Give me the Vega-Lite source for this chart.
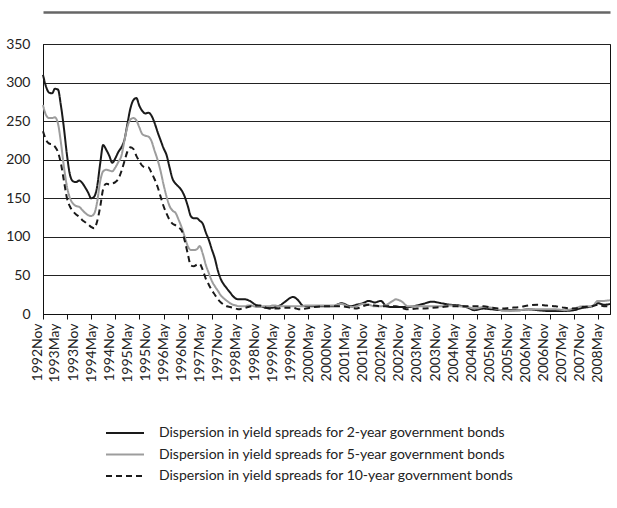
{
  "$schema": "https://vega.github.io/schema/vega-lite/v6.json",
  "width": 567,
  "height": 270,
  "autosize": "none",
  "padding": {"left": 43, "top": 44, "right": 7, "bottom": 194},
  "background": "white",
  "config": {
    "view": {"stroke": "#111", "strokeWidth": 1},
    "font": "Lato",
    "axis": {"labelFont": "Lato", "labelColor": "#222"},
    "legend": {"labelFont": "Lato", "labelColor": "#222"}
  },
  "data": {
    "values": [
      {"d": "1992-11", "a": 310, "b": 271, "c": 237},
      {"d": "1992-12", "a": 295, "b": 258, "c": 226},
      {"d": "1993-01", "a": 287, "b": 254, "c": 221},
      {"d": "1993-02", "a": 286, "b": 254, "c": 220},
      {"d": "1993-03", "a": 292, "b": 255, "c": 217},
      {"d": "1993-04", "a": 291, "b": 247, "c": 210},
      {"d": "1993-05", "a": 270, "b": 222, "c": 195},
      {"d": "1993-06", "a": 240, "b": 190, "c": 172},
      {"d": "1993-07", "a": 206, "b": 165, "c": 150},
      {"d": "1993-08", "a": 180, "b": 150, "c": 139},
      {"d": "1993-09", "a": 172, "b": 143, "c": 133},
      {"d": "1993-10", "a": 171, "b": 140, "c": 129},
      {"d": "1993-11", "a": 173, "b": 139, "c": 126},
      {"d": "1993-12", "a": 170, "b": 135, "c": 122},
      {"d": "1994-01", "a": 164, "b": 131, "c": 119},
      {"d": "1994-02", "a": 157, "b": 128, "c": 116},
      {"d": "1994-03", "a": 150, "b": 127, "c": 113},
      {"d": "1994-04", "a": 152, "b": 130, "c": 111},
      {"d": "1994-05", "a": 165, "b": 145, "c": 120},
      {"d": "1994-06", "a": 195, "b": 172, "c": 139},
      {"d": "1994-07", "a": 219, "b": 185, "c": 162},
      {"d": "1994-08", "a": 213, "b": 187, "c": 169},
      {"d": "1994-09", "a": 205, "b": 186, "c": 168},
      {"d": "1994-10", "a": 196, "b": 185, "c": 169},
      {"d": "1994-11", "a": 202, "b": 190, "c": 171},
      {"d": "1994-12", "a": 210, "b": 197, "c": 175},
      {"d": "1995-01", "a": 216, "b": 205, "c": 185},
      {"d": "1995-02", "a": 226, "b": 225, "c": 198},
      {"d": "1995-03", "a": 245, "b": 242, "c": 210},
      {"d": "1995-04", "a": 266, "b": 252, "c": 216},
      {"d": "1995-05", "a": 277, "b": 254, "c": 214},
      {"d": "1995-06", "a": 280, "b": 251, "c": 205},
      {"d": "1995-07", "a": 270, "b": 242, "c": 198},
      {"d": "1995-08", "a": 263, "b": 233, "c": 192},
      {"d": "1995-09", "a": 260, "b": 231, "c": 190},
      {"d": "1995-10", "a": 261, "b": 230, "c": 190},
      {"d": "1995-11", "a": 257, "b": 224, "c": 183},
      {"d": "1995-12", "a": 248, "b": 212, "c": 175},
      {"d": "1996-01", "a": 236, "b": 200, "c": 165},
      {"d": "1996-02", "a": 225, "b": 185, "c": 152},
      {"d": "1996-03", "a": 215, "b": 168, "c": 140},
      {"d": "1996-04", "a": 206, "b": 152, "c": 130},
      {"d": "1996-05", "a": 190, "b": 140, "c": 122},
      {"d": "1996-06", "a": 175, "b": 134, "c": 117},
      {"d": "1996-07", "a": 169, "b": 131, "c": 115},
      {"d": "1996-08", "a": 165, "b": 122, "c": 112},
      {"d": "1996-09", "a": 160, "b": 112, "c": 108},
      {"d": "1996-10", "a": 152, "b": 100, "c": 95},
      {"d": "1996-11", "a": 140, "b": 88, "c": 78},
      {"d": "1996-12", "a": 127, "b": 83, "c": 63},
      {"d": "1997-01", "a": 124, "b": 83, "c": 62},
      {"d": "1997-02", "a": 124, "b": 84, "c": 64},
      {"d": "1997-03", "a": 121, "b": 88, "c": 65},
      {"d": "1997-04", "a": 117, "b": 78, "c": 57},
      {"d": "1997-05", "a": 106, "b": 64, "c": 46},
      {"d": "1997-06", "a": 96, "b": 53, "c": 38},
      {"d": "1997-07", "a": 84, "b": 43, "c": 31},
      {"d": "1997-08", "a": 72, "b": 36, "c": 25},
      {"d": "1997-09", "a": 56, "b": 30, "c": 19},
      {"d": "1997-10", "a": 45, "b": 24, "c": 15},
      {"d": "1997-11", "a": 38, "b": 20, "c": 12},
      {"d": "1997-12", "a": 33, "b": 17, "c": 10},
      {"d": "1998-01", "a": 28, "b": 14, "c": 9},
      {"d": "1998-02", "a": 23, "b": 12, "c": 8},
      {"d": "1998-03", "a": 20, "b": 11, "c": 7},
      {"d": "1998-04", "a": 19, "b": 10, "c": 6},
      {"d": "1998-05", "a": 19, "b": 10, "c": 7},
      {"d": "1998-06", "a": 19, "b": 10, "c": 8},
      {"d": "1998-07", "a": 18, "b": 11, "c": 9},
      {"d": "1998-08", "a": 16, "b": 11, "c": 10},
      {"d": "1998-09", "a": 13, "b": 10, "c": 10},
      {"d": "1998-10", "a": 11, "b": 9, "c": 11},
      {"d": "1998-11", "a": 10, "b": 9, "c": 11},
      {"d": "1998-12", "a": 9, "b": 10, "c": 10},
      {"d": "1999-01", "a": 8, "b": 10, "c": 8},
      {"d": "1999-02", "a": 8, "b": 10, "c": 7},
      {"d": "1999-03", "a": 8, "b": 11, "c": 6},
      {"d": "1999-04", "a": 9, "b": 11, "c": 7},
      {"d": "1999-05", "a": 10, "b": 10, "c": 7},
      {"d": "1999-06", "a": 12, "b": 10, "c": 8},
      {"d": "1999-07", "a": 15, "b": 10, "c": 8},
      {"d": "1999-08", "a": 18, "b": 10, "c": 8},
      {"d": "1999-09", "a": 21, "b": 10, "c": 8},
      {"d": "1999-10", "a": 22, "b": 10, "c": 8},
      {"d": "1999-11", "a": 20, "b": 10, "c": 7},
      {"d": "1999-12", "a": 16, "b": 10, "c": 6},
      {"d": "2000-01", "a": 11, "b": 10, "c": 6},
      {"d": "2000-02", "a": 10, "b": 11, "c": 7},
      {"d": "2000-05", "a": 10, "b": 11, "c": 9},
      {"d": "2000-08", "a": 10, "b": 11, "c": 10},
      {"d": "2000-11", "a": 10, "b": 11, "c": 10},
      {"d": "2001-02", "a": 14, "b": 13, "c": 10},
      {"d": "2001-05", "a": 10, "b": 9, "c": 8},
      {"d": "2001-07", "a": 12, "b": 10, "c": 7},
      {"d": "2001-09", "a": 14, "b": 13, "c": 10},
      {"d": "2001-11", "a": 17, "b": 12, "c": 12},
      {"d": "2002-01", "a": 15, "b": 10, "c": 11},
      {"d": "2002-03", "a": 17, "b": 10, "c": 10},
      {"d": "2002-05", "a": 10, "b": 12, "c": 10},
      {"d": "2002-07", "a": 9, "b": 17, "c": 10},
      {"d": "2002-08", "a": 9, "b": 19, "c": 10},
      {"d": "2002-10", "a": 9, "b": 16, "c": 8},
      {"d": "2002-12", "a": 9, "b": 10, "c": 6},
      {"d": "2003-03", "a": 11, "b": 10, "c": 7},
      {"d": "2003-05", "a": 13, "b": 10, "c": 7},
      {"d": "2003-08", "a": 16, "b": 10, "c": 8},
      {"d": "2003-11", "a": 14, "b": 10, "c": 9},
      {"d": "2004-02", "a": 12, "b": 11, "c": 10},
      {"d": "2004-05", "a": 11, "b": 10, "c": 10},
      {"d": "2004-08", "a": 8, "b": 9, "c": 10},
      {"d": "2004-10", "a": 5, "b": 7, "c": 10},
      {"d": "2005-01", "a": 7, "b": 9, "c": 10},
      {"d": "2005-04", "a": 6, "b": 8, "c": 8},
      {"d": "2005-07", "a": 5, "b": 5, "c": 7},
      {"d": "2005-10", "a": 5, "b": 4, "c": 8},
      {"d": "2006-01", "a": 5, "b": 5, "c": 9},
      {"d": "2006-04", "a": 6, "b": 6, "c": 11},
      {"d": "2006-07", "a": 5, "b": 6, "c": 12},
      {"d": "2006-10", "a": 4, "b": 6, "c": 11},
      {"d": "2007-01", "a": 4, "b": 6, "c": 10},
      {"d": "2007-04", "a": 4, "b": 5, "c": 8},
      {"d": "2007-07", "a": 5, "b": 7, "c": 7},
      {"d": "2007-10", "a": 8, "b": 10, "c": 9},
      {"d": "2008-01", "a": 10, "b": 10, "c": 10},
      {"d": "2008-03", "a": 14, "b": 17, "c": 12},
      {"d": "2008-05", "a": 12, "b": 17, "c": 10},
      {"d": "2008-07", "a": 13, "b": 18, "c": 10}
    ]
  },
  "transform": [{"fold": ["a", "b", "c"], "as": ["s", "v"]}],
  "layer": [
    {
      "mark": {"type": "line", "interpolate": "monotone", "strokeWidth": 2},
      "encoding": {
        "x": {
          "field": "d", "type": "temporal",
          "scale": {"type": "utc", "domain": [{"year": 1992, "month": 11, "date": 1, "utc": true}, {"year": 2008, "month": 7, "date": 1, "utc": true}]},
          "axis": {
            "orient": "bottom", "title": null, "grid": false, "ticks": false,
            "domain": true, "domainColor": "#111", "domainWidth": 1,
            "labelExpr": "utcFormat(datum.value, '%Y%b')",
            "labelAngle": -90, "labelAlign": "right", "labelBaseline": "middle",
            "labelPadding": 9, "labelFontSize": 14, "labelOffset": -6,
            "labelOverlap": false, "labelBound": false, "labelFlush": false,
            "values": [
              {"year": 1992, "month": 11, "date": 1, "utc": true},
              {"year": 1993, "month": 5, "date": 1, "utc": true},
              {"year": 1993, "month": 11, "date": 1, "utc": true},
              {"year": 1994, "month": 5, "date": 1, "utc": true},
              {"year": 1994, "month": 11, "date": 1, "utc": true},
              {"year": 1995, "month": 5, "date": 1, "utc": true},
              {"year": 1995, "month": 11, "date": 1, "utc": true},
              {"year": 1996, "month": 5, "date": 1, "utc": true},
              {"year": 1996, "month": 11, "date": 1, "utc": true},
              {"year": 1997, "month": 5, "date": 1, "utc": true},
              {"year": 1997, "month": 11, "date": 1, "utc": true},
              {"year": 1998, "month": 5, "date": 1, "utc": true},
              {"year": 1998, "month": 11, "date": 1, "utc": true},
              {"year": 1999, "month": 5, "date": 1, "utc": true},
              {"year": 1999, "month": 11, "date": 1, "utc": true},
              {"year": 2000, "month": 5, "date": 1, "utc": true},
              {"year": 2000, "month": 11, "date": 1, "utc": true},
              {"year": 2001, "month": 5, "date": 1, "utc": true},
              {"year": 2001, "month": 11, "date": 1, "utc": true},
              {"year": 2002, "month": 5, "date": 1, "utc": true},
              {"year": 2002, "month": 11, "date": 1, "utc": true},
              {"year": 2003, "month": 5, "date": 1, "utc": true},
              {"year": 2003, "month": 11, "date": 1, "utc": true},
              {"year": 2004, "month": 5, "date": 1, "utc": true},
              {"year": 2004, "month": 11, "date": 1, "utc": true},
              {"year": 2005, "month": 5, "date": 1, "utc": true},
              {"year": 2005, "month": 11, "date": 1, "utc": true},
              {"year": 2006, "month": 5, "date": 1, "utc": true},
              {"year": 2006, "month": 11, "date": 1, "utc": true},
              {"year": 2007, "month": 5, "date": 1, "utc": true},
              {"year": 2007, "month": 11, "date": 1, "utc": true},
              {"year": 2008, "month": 5, "date": 1, "utc": true}
            ]
          }
        },
        "y": {
          "field": "v", "type": "quantitative",
          "scale": {"domain": [0, 350], "nice": false},
          "axis": {
            "title": null, "values": [0, 50, 100, 150, 200, 250, 300, 350],
            "grid": true, "gridColor": "#222", "gridWidth": 1, "labelOverlap": false,
            "ticks": false, "domain": true, "domainColor": "#111",
            "labelFontSize": 14, "labelPadding": 13
          }
        },
        "color": {
          "field": "s", "type": "nominal",
          "scale": {"domain": ["a", "b", "c"], "range": ["#1a1a1a", "#9d9d9d", "#1a1a1a"]},
          "legend": {
            "title": null, "orient": "none", "legendX": 62, "legendY": 379,
            "direction": "vertical", "symbolType": "stroke", "symbolSize": 1444,
            "symbolStrokeWidth": 2, "labelFontSize": 14, "labelOffset": 14,
            "clipHeight": 20, "rowPadding": 1.5, "padding": 0, "labelLimit": 600,
            "labelExpr": "datum.label == 'a' ? 'Dispersion in yield spreads for 2-year government bonds' : datum.label == 'b' ? 'Dispersion in yield spreads for 5-year government bonds' : 'Dispersion in yield spreads for 10-year government bonds'"
          }
        },
        "strokeDash": {
          "field": "s", "type": "nominal",
          "scale": {"domain": ["a", "b", "c"], "range": [[1, 0], [1, 0], [6, 4]]}
        },
        "order": {"field": "s", "type": "nominal", "sort": "descending"}
      }
    },
    {
      "mark": {"type": "point", "opacity": 0},
      "encoding": {
        "x": {
          "field": "d", "type": "temporal",
          "axis": {
            "orient": "bottom", "title": null, "grid": false, "labels": false, "domain": false,
            "ticks": true, "tickSize": 5, "tickColor": "#111", "tickWidth": 1,
            "values": [
              {"year": 1992, "month": 11, "date": 1, "utc": true},
              {"year": 1993, "month": 7, "date": 1, "utc": true},
              {"year": 1994, "month": 3, "date": 1, "utc": true},
              {"year": 1994, "month": 11, "date": 1, "utc": true},
              {"year": 1995, "month": 7, "date": 1, "utc": true},
              {"year": 1996, "month": 3, "date": 1, "utc": true},
              {"year": 1996, "month": 11, "date": 1, "utc": true},
              {"year": 1997, "month": 7, "date": 1, "utc": true},
              {"year": 1998, "month": 3, "date": 1, "utc": true},
              {"year": 1998, "month": 11, "date": 1, "utc": true},
              {"year": 1999, "month": 7, "date": 1, "utc": true},
              {"year": 2000, "month": 3, "date": 1, "utc": true},
              {"year": 2000, "month": 11, "date": 1, "utc": true},
              {"year": 2001, "month": 7, "date": 1, "utc": true},
              {"year": 2002, "month": 3, "date": 1, "utc": true},
              {"year": 2002, "month": 11, "date": 1, "utc": true},
              {"year": 2003, "month": 7, "date": 1, "utc": true},
              {"year": 2004, "month": 3, "date": 1, "utc": true},
              {"year": 2004, "month": 11, "date": 1, "utc": true},
              {"year": 2005, "month": 7, "date": 1, "utc": true},
              {"year": 2006, "month": 3, "date": 1, "utc": true},
              {"year": 2006, "month": 11, "date": 1, "utc": true},
              {"year": 2007, "month": 7, "date": 1, "utc": true},
              {"year": 2008, "month": 3, "date": 1, "utc": true}
            ]
          }
        }
      }
    },
    {
      "mark": {"type": "point", "opacity": 0},
      "encoding": {
        "x": {
          "field": "d", "type": "temporal",
          "axis": {
            "orient": "top", "offset": 32, "title": null, "grid": false, "labels": false, "ticks": false,
            "domain": true, "domainColor": "#666", "domainWidth": 2.5
          }
        }
      }
    }
  ],
  "resolve": {"axis": {"x": "independent"}}
}
